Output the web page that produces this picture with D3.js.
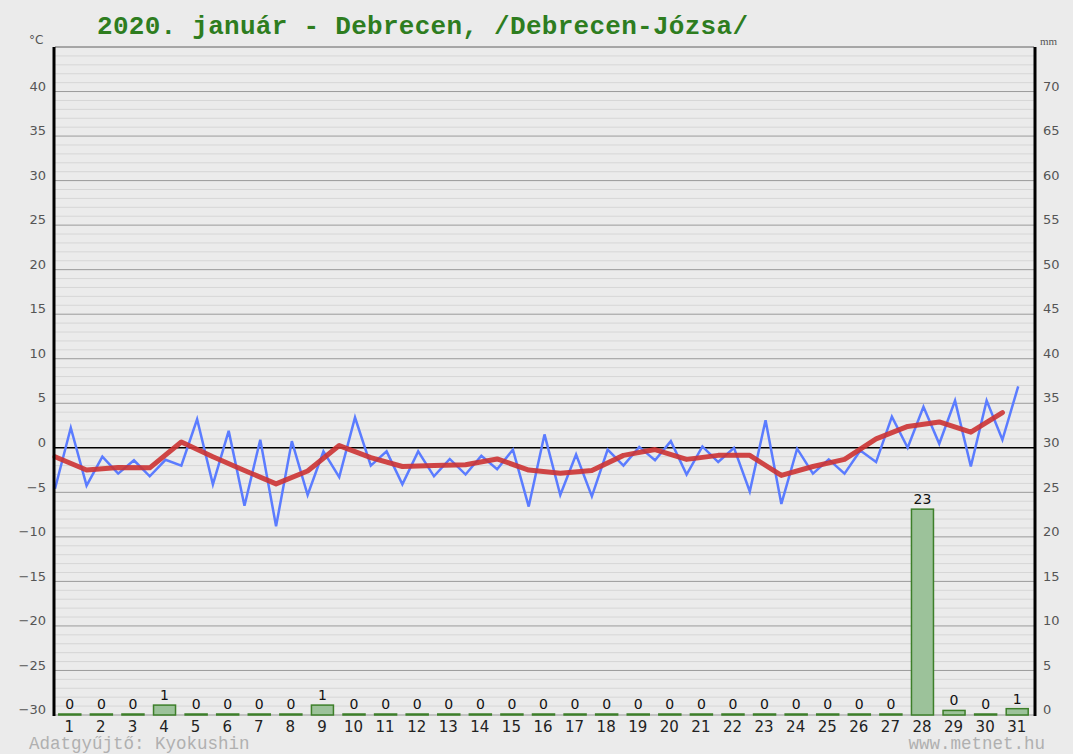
<!DOCTYPE html>
<html>
<head>
<meta charset="utf-8">
<script src="https://cdn.jsdelivr.net/npm/d3@7"></script>
<style>
  html, body { margin: 0; padding: 0; background: #ebebeb; }
  svg { display: block; }
</style>
</head>
<body>
<div id="chart"></div>
<script>
const width = 1073;
const height = 754;

const title = "2020. január - Debrecen, /Debrecen-Józsa/";
const days = d3.range(1, 32);

// blue line: two readings per day (night low, daytime high), °C
const tempHalfDay = [
  -4.6, 2.25, -4.25, -1.0, -2.9, -1.4, -3.2, -1.35, -2.0, 3.2,
  -4.1, 1.9, -6.5, 0.9, -8.8, 0.75, -5.3, -0.4, -3.3, 3.4,
  -2.0, -0.4, -4.1, -0.4, -3.2, -1.25, -3.0, -0.9, -2.4, -0.2,
  -6.6, 1.5, -5.3, -0.75, -5.45, -0.2, -2.0, 0.1, -1.4, 0.75,
  -3.0, 0.15, -1.6, 0.0, -4.9, 3.1, -6.3, -0.1, -2.9, -1.3,
  -2.9, -0.3, -1.6, 3.5, 0.0, 4.6, 0.45, 5.3, -2.1, 5.3,
  0.9, 6.9
];

// red line: daily mean, °C
const tempMean = [
  -1.0, -2.5, -2.2, -2.25, 0.65, -1.0, -2.55, -4.05, -2.6, 0.25,
  -1.1, -2.1, -2.0, -1.9, -1.25, -2.5, -2.85, -2.55, -0.85, -0.2,
  -1.3, -0.85, -0.85, -3.1, -2.1, -1.3, 1.0, 2.4, 2.9, 1.75,
  3.95
];

// precipitation, mm
const precip = [
  0, 0, 0, 1, 0, 0, 0, 0, 1, 0,
  0, 0, 0, 0, 0, 0, 0, 0, 0, 0,
  0, 0, 0, 0, 0, 0, 0, 23, 0.4, 0,
  0.6
];

const tempTicks = d3.range(-30, 45, 5);
const mmTicks = d3.range(0, 75, 5);

const pLeft = 55, pRight = 1034, pTop = 47, pBottom = 715;

const svg = d3.select("#chart").append("svg")
  .attr("width", width).attr("height", height);

svg.append("rect").attr("width", width).attr("height", height).attr("fill", "#ebebeb");

const x = d3.scaleLinear().domain([0, 31]).range([pLeft, pRight]);
const y = d3.scaleLinear().domain([-30, 45]).range([pBottom, pTop]);
const yP = d3.scaleLinear().domain([0, 75]).range([pBottom, pTop]);

// grid
const grid = svg.append("g");
grid.selectAll("line.minor").data(d3.range(-30, 46, 1).filter(v => v % 5 !== 0)).join("line")
  .attr("class", "minor")
  .attr("x1", pLeft).attr("x2", pRight)
  .attr("y1", d => y(d)).attr("y2", d => y(d))
  .attr("stroke", "#d6d6d6").attr("stroke-width", 1);
grid.selectAll("line.major").data(d3.range(-30, 46, 5).filter(v => v !== 0)).join("line")
  .attr("class", "major")
  .attr("x1", pLeft).attr("x2", pRight)
  .attr("y1", d => y(d)).attr("y2", d => y(d))
  .attr("stroke", "#9a9a9a").attr("stroke-width", 1);
grid.append("line")
  .attr("x1", pLeft).attr("x2", pRight).attr("y1", y(0)).attr("y2", y(0))
  .attr("stroke", "#000").attr("stroke-width", 1.5);

// precipitation bars
const bw = 22;
const bars = svg.append("g");
bars.selectAll("rect").data(days).join("rect")
  .attr("x", d => x(d - 0.5) - bw / 2 - 1)
  .attr("width", bw)
  .attr("y", d => yP(precip[d - 1]) - 1)
  .attr("height", d => yP(0) - yP(precip[d - 1]) + 1)
  .attr("fill", "#9cc29a").attr("stroke", "#3d7f2a").attr("stroke-width", 1.5);
bars.selectAll("text").data(days).join("text")
  .attr("x", d => x(d - 0.5) - 1)
  .attr("y", d => yP(precip[d - 1]) - 6)
  .attr("text-anchor", "middle")
  .style("font-family", "DejaVu Sans, sans-serif").style("font-size", "14px").style("fill", "#111")
  .text(d => Math.round(precip[d - 1]));

// temperature lines
const line = d3.line();
svg.append("path")
  .attr("d", line(tempHalfDay.map((v, i) => [x(i / 2), y(v)])))
  .attr("fill", "none").attr("stroke", "#5b7cff").attr("stroke-width", 2.5)
  .attr("stroke-linejoin", "miter");
svg.append("path")
  .attr("d", line(tempMean.map((v, i) => [x(i), y(v)])))
  .attr("fill", "none").attr("stroke", "#cc3333").attr("stroke-width", 5)
  .attr("stroke-opacity", 0.9).attr("stroke-linejoin", "round").attr("stroke-linecap", "round");

// frame
svg.append("line").attr("x1", pLeft).attr("x2", pRight).attr("y1", pTop).attr("y2", pTop)
  .attr("stroke", "#888").attr("stroke-width", 1);
svg.append("line").attr("x1", pLeft - 1).attr("x2", pLeft - 1).attr("y1", pTop).attr("y2", pBottom + 1)
  .attr("stroke", "#000").attr("stroke-width", 3);
svg.append("line").attr("x1", pRight + 1).attr("x2", pRight + 1).attr("y1", pTop).attr("y2", pBottom + 1)
  .attr("stroke", "#000").attr("stroke-width", 3);

// axes
const axL = svg.append("g").attr("transform", `translate(${pLeft - 3},0)`)
  .call(d3.axisLeft(y).tickValues(tempTicks).tickSize(0).tickPadding(6));
const axR = svg.append("g").attr("transform", `translate(${pRight + 3},0)`)
  .call(d3.axisRight(yP).tickValues(mmTicks).tickSize(0).tickPadding(6));
[axL, axR].forEach(a => {
  a.select(".domain").remove();
  a.selectAll("text")
    .style("font-family", "DejaVu Sans, sans-serif").style("font-size", "13px").style("fill", "#555")
    .attr("dy", "-0.1em");
});

const axB = svg.append("g").attr("transform", `translate(0,${pBottom})`)
  .call(d3.axisBottom(x).tickValues(days.map(d => d - 0.5)).tickFormat(d => d + 0.5).tickSize(0).tickPadding(6));
axB.select(".domain").remove();
axB.selectAll("text")
  .attr("dx", "-2")
  .style("font-family", "DejaVu Sans, sans-serif").style("font-size", "15px").style("fill", "#222");

// unit labels
svg.append("text").attr("x", 29).attr("y", 44).text("°C")
  .style("font-family", "DejaVu Sans, sans-serif").style("font-size", "12px").style("fill", "#555");
svg.append("text").attr("x", 1040).attr("y", 45).text("mm")
  .style("font-family", "Liberation Serif, serif").style("font-size", "11px").style("fill", "#555");

// title and footer
svg.append("text").attr("x", 97).attr("y", 34).text(title)
  .attr("textLength", 651).attr("lengthAdjust", "spacing")
  .style("font-family", "Liberation Mono, monospace").style("font-size", "26px")
  .style("font-weight", "bold").style("fill", "#2e7d1f");
svg.append("text").attr("x", 29).attr("y", 749).text("Adatgyűjtő: Kyokushin")
  .style("font-family", "Liberation Mono, monospace").style("font-size", "17.5px").style("fill", "#b0b0b0");
svg.append("text").attr("x", 1045).attr("y", 749).attr("text-anchor", "end").text("www.metnet.hu")
  .style("font-family", "Liberation Mono, monospace").style("font-size", "17.5px").style("fill", "#b0b0b0");
</script>
</body>
</html>
